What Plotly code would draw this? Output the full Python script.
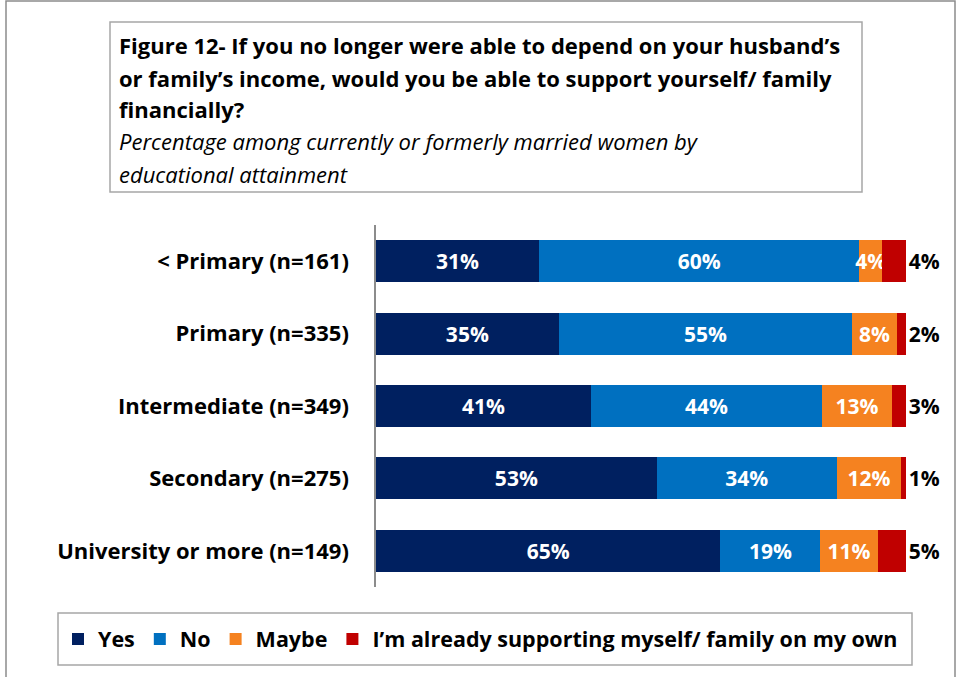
import plotly.graph_objects as go

categories = ["< Primary (n=161)", "Primary (n=335)", "Intermediate (n=349)",
              "Secondary (n=275)", "University or more (n=149)"]
series_names = ["Yes", "No", "Maybe", "I\u2019m already supporting myself/ family on my own"]
yes_vals = [30.8, 34.5, 40.6, 53.0, 65.0]
no_vals = [60.4, 55.4, 43.6, 34.0, 18.9]
maybe_vals = [4.4, 8.4, 13.2, 12.1, 10.8]
own_vals = [4.4, 1.7, 2.6, 0.9, 5.3]
colors = ["#002060", "#0070C0", "#F58220", "#C00000"]

title_lines = [
    "<b>Figure 12- If you no longer were able to depend on your husband\u2019s</b>",
    "<b>or family\u2019s income, would you be able to support yourself/ family</b>",
    "<b>financially?</b>",
    "<i>Percentage among currently or formerly married women by</i>",
    "<i>educational attainment</i>",
]

FONT = "Open Sans"
W, H = 960, 677
L, R, T, B = 376, 54, 225, 90
PW, PH = W - L - R, H - T - B

def px(x):
    return (x - L) / PW

def py(y):
    return (H - B - y) / PH

fig = go.Figure()
all_vals = [yes_vals, no_vals, maybe_vals, own_vals]
for i, (name, vals) in enumerate(zip(series_names, all_vals)):
    last = i == 3
    fig.add_trace(go.Bar(
        y=categories, x=vals, name=name, orientation="h",
        marker=dict(color=colors[i], line=dict(width=0)),
        texttemplate="%{x:.0f}%",
        textposition="outside" if last else "inside",
        insidetextanchor="middle",
        constraintext="none",
        textangle=0,
        textfont=dict(family=FONT, size=21, color="black" if last else "white", weight="bold"),
        cliponaxis=False,
    ))

shapes = [
    dict(type="rect", xref="paper", yref="paper", x0=px(6), x1=px(955), y0=py(1), y1=py(700),
         line=dict(color="#8c8c8c", width=1.5), fillcolor="rgba(0,0,0,0)", layer="below"),
    dict(type="rect", xref="paper", yref="paper", x0=px(110), x1=px(862), y0=py(22), y1=py(192),
         line=dict(color="#a6a6a6", width=1.5), fillcolor="white", layer="below"),
    dict(type="rect", xref="paper", yref="paper", x0=px(58), x1=px(912), y0=py(613), y1=py(665),
         line=dict(color="#a6a6a6", width=1.5), fillcolor="white", layer="below"),
]

ys = [45, 78, 109, 141, 174]
annotations = []
for txt, yy in zip(title_lines, ys):
    annotations.append(dict(text=txt, xref="paper", yref="paper", x=px(117), y=py(yy),
                            xanchor="left", yanchor="middle", showarrow=False,
                            font=dict(family=FONT, size=22, color="black")))

fig.update_layout(
    width=W, height=H,
    margin=dict(l=L, r=R, t=T, b=B, autoexpand=False),
    barmode="stack", bargap=0.42,
    paper_bgcolor="white", plot_bgcolor="white",
    font=dict(family=FONT, color="black"),
    xaxis=dict(range=[0, 100.05], visible=False, fixedrange=True),
    yaxis=dict(autorange="reversed", showline=True, linecolor="#8c8c8c", linewidth=1.5,
               ticks="", showgrid=False, ticklabelstandoff=21, fixedrange=True,
               tickfont=dict(family=FONT, size=22, color="black", weight="bold")),
    legend=dict(orientation="h", xref="paper", yref="paper",
                x=px(58), xanchor="left", y=py(639), yanchor="middle",
                borderwidth=0, bgcolor="rgba(0,0,0,0)",
                font=dict(family=FONT, size=21.5, color="black", weight="bold"),
                traceorder="normal", itemwidth=30),
    shapes=shapes, annotations=annotations,
    showlegend=True,
)

fig.write_html("out.html", config={"displayModeBar": False},
               post_script="document.body.style.margin='0';document.body.style.overflow='hidden';")
